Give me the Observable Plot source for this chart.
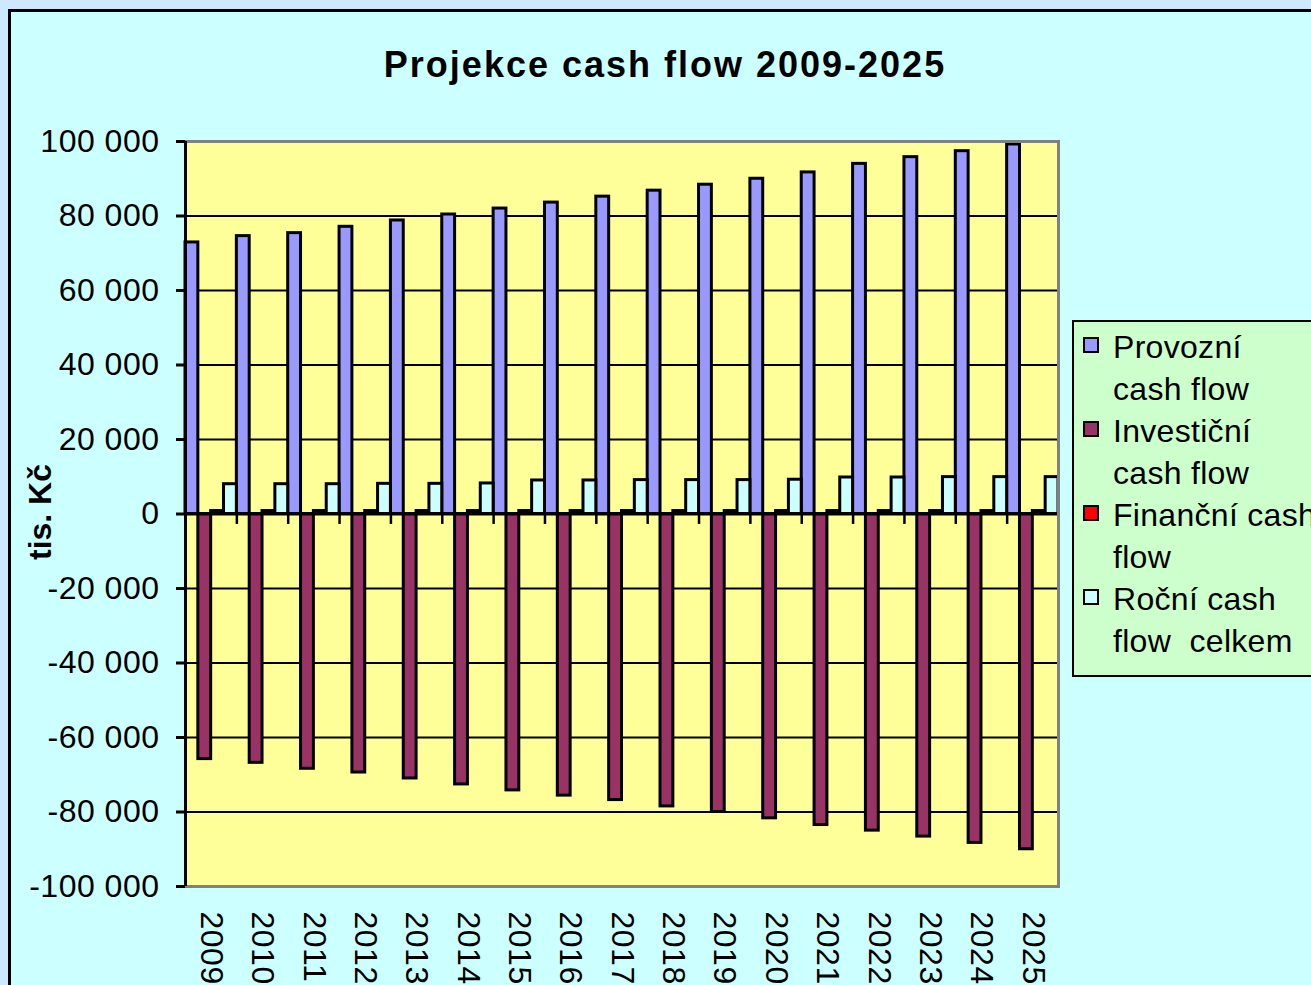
<!DOCTYPE html>
<html>
<head>
<meta charset="utf-8">
<script src="https://cdn.jsdelivr.net/npm/d3@7"></script>
<script src="https://cdn.jsdelivr.net/npm/@observablehq/plot@0.6"></script>
<style>
  html, body { margin: 0; padding: 0; width: 1311px; height: 985px; overflow: hidden; background: #CDE8FF; font-family: "Liberation Sans", Arial, sans-serif; }
  #frame { position: absolute; left: 8px; top: 9px; width: 1400px; height: 1100px; border: 3px solid #000; background: #CCFFFF; }
  #chart { position: absolute; left: 0; top: 0; }
  #title { position: absolute; left: 0; width: 1330px; top: 44px; text-align: center; font-weight: bold; font-size: 36px; letter-spacing: 2px; color: #000; }
  #ylabel { position: absolute; left: 40px; top: 512px; transform: translate(-50%, -50%) rotate(-90deg); font-weight: bold; font-size: 32px; white-space: nowrap; color: #000; }
  #legend { position: absolute; left: 1072px; top: 320px; width: 300px; height: 349px; background: #CCFFCC; border: 2px solid #000; box-sizing: content-box; padding-top: 4px; }
  .item { position: relative; }
  .sw { position: absolute; left: 9px; top: 11px; width: 12px; height: 12px; border: 2px solid #000; }
  .line { padding-left: 39px; font-size: 32px; line-height: 42px; white-space: pre; color: #000; letter-spacing: 0.3px; }
</style>
</head>
<body>
<div id="frame"></div>
<div id="chart"></div>
<div id="title">Projekce cash flow 2009-2025</div>
<div id="ylabel">tis. Kč</div>
<div id="legend"></div>
<script>
const years = [2009, 2010, 2011, 2012, 2013, 2014, 2015, 2016, 2017, 2018, 2019, 2020, 2021, 2022, 2023, 2024, 2025];
const seriesNames = ["Provozní cash flow", "Investiční cash flow", "Finanční cash flow", "Roční cash flow  celkem"];
const legendLines = [["Provozní", "cash flow"], ["Investiční", "cash flow"], ["Finanční cash", "flow"], ["Roční cash", "flow  celkem"]];
const seriesColors = ["#9999FF", "#993366", "#FF0000", "#CCFFFF"];
const provozni = [72900, 74600, 75400, 77100, 78800, 80400, 82000, 83600, 85200, 86800, 88400, 90000, 91700, 94000, 95800, 97400, 99200];
const investicni = [-65800, -66800, -68400, -69400, -71000, -72600, -74200, -75600, -76800, -78500, -80000, -81700, -83500, -85000, -86600, -88300, -90000];
const financni = [800, 800, 800, 800, 800, 800, 800, 800, 800, 800, 800, 800, 800, 800, 800, 800, 800];
const rocni = [8000, 8000, 8000, 8100, 8100, 8200, 9000, 9000, 9100, 9100, 9100, 9200, 9800, 9800, 9900, 9900, 9900];
const yTicks = [-100000, -80000, -60000, -40000, -20000, 0, 20000, 40000, 60000, 80000, 100000];

const seriesValues = [provozni, investicni, financni, rocni];
const data = [];
seriesValues.forEach((vals, k) => {
  vals.forEach((v, i) => data.push({year: years[i], k, series: seriesNames[k], value: v}));
});
const boundaries = years.map(y => y - 0.5).concat([years[years.length - 1] + 0.5]);
const gridTicks = yTicks.filter(t => t !== 0 && Math.abs(t) !== 100000);
const fmt = d => d === 0 ? "0" : (d < 0 ? "-" : "") + d3.format(",")(Math.abs(d)).replace(/,/g, " ");

const plot = Plot.plot({
  width: 1311,
  height: 985,
  marginLeft: 185,
  marginRight: 253,
  marginTop: 141,
  marginBottom: 99,
  style: {background: "transparent", fontFamily: "'Liberation Sans', Arial, sans-serif", fontSize: "32px", color: "#000", letterSpacing: "0.5px"},
  x: {type: "linear", domain: [years[0] - 0.5, years[years.length - 1] + 0.5]},
  y: {domain: [-100000, 100000]},
  color: {domain: seriesNames, range: seriesColors},
  marks: [
    Plot.frame({fill: "#FFFF99"}),
    Plot.ruleY(gridTicks, {stroke: "#000", strokeWidth: 2}),
    Plot.rect(data, {
      x1: d => d.year - 0.5 + d.k * 0.25,
      x2: d => d.year - 0.5 + (d.k + 1) * 0.25,
      y1: 0,
      y2: "value",
      fill: "series",
      stroke: "#000",
      strokeWidth: 3
    }),
    Plot.ruleY([0], {stroke: "#000", strokeWidth: 3}),
    Plot.ruleX(boundaries, {y1: 0, y2: -2800, stroke: "#000", strokeWidth: 2.5}),
    Plot.frame({stroke: "#808080", strokeWidth: 3}),
    Plot.ruleX([years[0] - 0.5], {stroke: "#000", strokeWidth: 3}),
    Plot.axisY({ticks: yTicks, tickFormat: fmt, tickSize: 9, tickPadding: 17, fontSize: 32, label: null, strokeWidth: 3}),
    Plot.axisX({ticks: years, tickFormat: d => String(d), tickRotate: 90, tickSize: 0, tickPadding: 25, fontSize: 32, label: null})
  ]
});
document.getElementById("chart").appendChild(plot);

const legend = document.getElementById("legend");
legendLines.forEach((lines, k) => {
  const item = document.createElement("div");
  item.className = "item";
  const sw = document.createElement("div");
  sw.className = "sw";
  sw.style.background = seriesColors[k];
  item.appendChild(sw);
  lines.forEach(t => {
    const l = document.createElement("div");
    l.className = "line";
    l.textContent = t;
    item.appendChild(l);
  });
  legend.appendChild(item);
});
</script>
</body>
</html>
